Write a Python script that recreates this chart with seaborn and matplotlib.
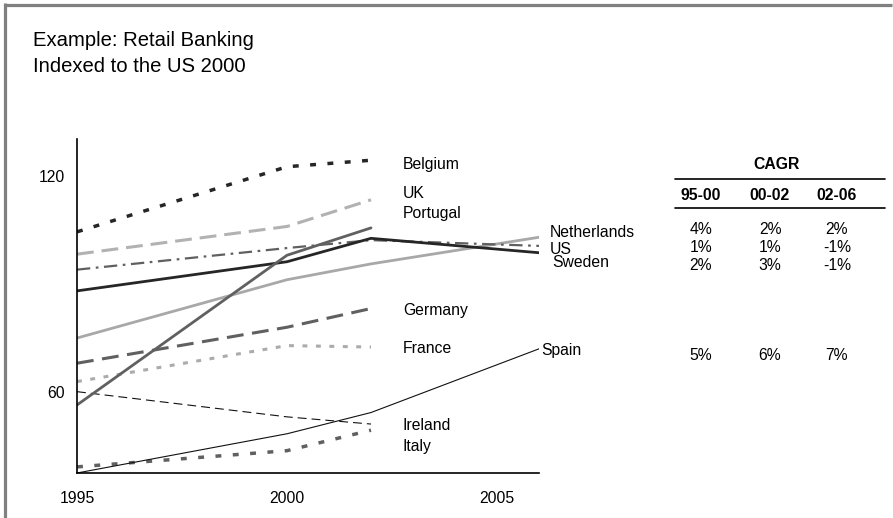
import matplotlib
matplotlib.use("Agg")
import matplotlib.pyplot as plt
from matplotlib.lines import Line2D
import pandas as pd
import seaborn as sns

# Retail banking index, US in 2000 = 100
years_short = [1995, 2000, 2002]
years_long = [1995, 2000, 2002, 2006]

belgium = [104.5, 122.6, 124.4]
uk = [98.3, 106.0, 113.4]
portugal = [56.4, 98.0, 105.6]
germany = [68.0, 78.0, 83.2]
france = [62.9, 72.9, 72.5]
ireland = [60.1, 53.1, 51.1]
italy = [39.2, 43.7, 49.4]
netherlands = [75.0, 91.2, 95.6, 103.0]
us = [94.0, 100.0, 102.2, 100.6]
sweden = [88.1, 96.2, 102.7, 98.7]
spain = [37.5, 48.4, 54.3, 72.0]

x_ticks = [1995, 2000, 2005]
y_ticks = [60, 120]

# Compound annual growth rates by period
cagr_periods = ["95-00", "00-02", "02-06"]
cagr_netherlands = ["4%", "2%", "2%"]
cagr_us = ["1%", "1%", "-1%"]
cagr_sweden = ["2%", "3%", "-1%"]
cagr_spain = ["5%", "6%", "7%"]

series = {
    "Belgium": (years_short, belgium),
    "UK": (years_short, uk),
    "Germany": (years_short, germany),
    "France": (years_short, france),
    "Ireland": (years_short, ireland),
    "Italy": (years_short, italy),
    "Netherlands": (years_long, netherlands),
    "US": (years_long, us),
    "Sweden": (years_long, sweden),
    "Spain": (years_long, spain),
    "Portugal": (years_short, portugal),
}

rows = []
for name, (yrs, vals) in series.items():
    for yr, v in zip(yrs, vals):
        rows.append({"country": name, "year": yr, "index": v})
df = pd.DataFrame(rows)

DARK = "#262626"
MID = "#606060"
LIGHT = "#ababab"

styles = {
    "Belgium": dict(color=DARK, lw=2.5, ls=(0, (1.7, 3.3))),
    "UK": dict(color="#b2b2b2", lw=2.2, ls=(0, (5.5, 2.6))),
    "Portugal": dict(color=MID, lw=2.0, ls="-"),
    "Germany": dict(color=MID, lw=2.2, ls=(0, (5.5, 2.8))),
    "France": dict(color=LIGHT, lw=2.2, ls=(0, (1.6, 2.8))),
    "Ireland": dict(color="#111111", lw=0.8, ls=(0, (8, 4.5))),
    "Italy": dict(color=MID, lw=2.5, ls=(0, (1.7, 3.3))),
    "Netherlands": dict(color="#a8a8a8", lw=2.0, ls="-"),
    "US": dict(color=MID, lw=1.6, ls=(0, (6, 2.5, 1.2, 2.5))),
    "Sweden": dict(color=DARK, lw=2.0, ls="-"),
    "Spain": dict(color="#111111", lw=0.8, ls="-"),
}

# Where each country's name sits (data coordinates)
label_pos = {
    "Belgium": (2002.76, 123.3),
    "UK": (2002.76, 115.2),
    "Portugal": (2002.76, 109.6),
    "Germany": (2002.76, 82.6),
    "France": (2002.76, 72.1),
    "Ireland": (2002.76, 50.6),
    "Italy": (2002.76, 45.0),
    "Netherlands": (2006.26, 104.2),
    "US": (2006.26, 99.5),
    "Sweden": (2006.31, 96.0),
    "Spain": (2006.06, 71.5),
}

sns.set_style("white")
plt.rcParams["font.family"] = ["Liberation Sans", "DejaVu Sans"]
plt.rcParams["text.color"] = "black"
plt.rcParams["xtick.color"] = "black"
plt.rcParams["ytick.color"] = "black"
plt.rcParams["xtick.labelcolor"] = "black"
plt.rcParams["ytick.labelcolor"] = "black"
FS = 11.3

W, H = 893, 518
fig = plt.figure(figsize=(W / 100, H / 100), dpi=100)
ax = fig.add_axes([77 / W, 1 - 473 / H, (539 - 77) / W, (473 - 139) / H])

for name in series:
    st = styles[name]
    sns.lineplot(data=df[df["country"] == name], x="year", y="index", ax=ax,
                 color=st["color"], linewidth=st["lw"], linestyle=st["ls"],
                 errorbar=None, legend=False)
    lx, ly = label_pos[name]
    ax.text(lx, ly, name, fontsize=FS, color="black", ha="left",
            va="center", clip_on=False)

ax.set_xlim(1995, 2006)
ax.set_ylim(37.5, 130.3)
ax.set_xticks(x_ticks)
ax.set_yticks(y_ticks)
ax.set_xlabel("")
ax.set_ylabel("")
for side in ("top", "right"):
    ax.spines[side].set_visible(False)
for side in ("left", "bottom"):
    ax.spines[side].set_color("black")
    ax.spines[side].set_linewidth(1.2)
ax.tick_params(axis="both", direction="in", length=5, width=1.1,
               colors="black", labelcolor="black", labelsize=FS)
ax.tick_params(axis="x", pad=13)
ax.tick_params(axis="y", pad=9)

# Title block
fig.text(33 / W, 1 - 40 / H, "Example: Retail Banking", fontsize=14.6,
         color="black", ha="left", va="center")
fig.text(33 / W, 1 - 66 / H, "Indexed to the US 2000", fontsize=14.6,
         color="black", ha="left", va="center")

# CAGR table
fig.text(777 / W, 1 - 165 / H, "CAGR", fontsize=FS, fontweight="bold",
         color="black", ha="center", va="center")
for yy in (179, 208):
    fig.add_artist(Line2D([675 / W, 885 / W], [1 - yy / H, 1 - yy / H],
                          color="black", lw=1.2))
col_x = [701, 770, 837]
for cx, period in zip(col_x, cagr_periods):
    fig.text(cx / W, 1 - 195 / H, period, fontsize=FS, fontweight="bold",
             color="black", ha="center", va="center")
for row_y, vals in zip([230, 247.5, 265, 355],
                       [cagr_netherlands, cagr_us, cagr_sweden, cagr_spain]):
    for cx, v in zip(col_x, vals):
        fig.text(cx / W, 1 - row_y / H, v, fontsize=FS, color="black",
                 ha="center", va="center")

# Frame along the top and left edges
fig.add_artist(Line2D([4.5 / W, 892 / W], [1 - 4.5 / H, 1 - 4.5 / H],
                      color="#808080", lw=2.3, solid_capstyle="butt"))
fig.add_artist(Line2D([4.5 / W, 4.5 / W], [1 - 3 / H, 0], color="#808080",
                      lw=2.3, solid_capstyle="butt"))

fig.savefig("out.png", dpi=100)
